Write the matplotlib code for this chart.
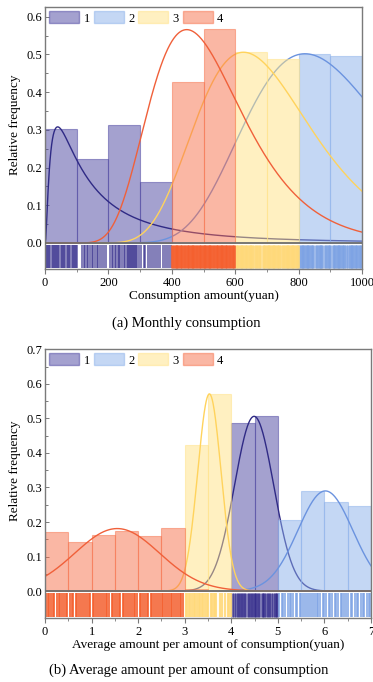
import numpy as np
import matplotlib.pyplot as plt
from matplotlib.patches import Patch

plt.rcParams['font.family'] = ['Liberation Serif', 'DejaVu Serif']

# ---- data: (a) monthly consumption ----
top_bin_left = [0, 100, 200, 300, 400, 500, 600, 700, 800, 900]
top_bin_cluster = [1, 1, 1, 1, 4, 4, 3, 3, 2, 2]
top_freq = [0.302, 0.223, 0.312, 0.161, 0.428, 0.567, 0.506, 0.488, 0.500, 0.496]
top_small_left = [0]
top_small_cluster = [4]
top_small_freq = [0.003]

# fitted (lognormal) curves: mode, peak height, log-sigma for clusters 1..4
top_mode = [40, 820, 626, 447]
top_peak = [0.308, 0.502, 0.506, 0.566]
top_sigma = [1.12, 0.276, 0.29, 0.33]

top_rug = {
    1: [4, 7, 10, 14, 17, 21, 24, 27, 31, 34, 38, 41, 45, 50, 53, 57, 60, 64, 69, 72, 76, 80,
        84, 88, 91, 95, 99, 102, 118, 122, 126, 131, 136, 141, 147, 152, 157, 163, 168, 174,
        179, 185, 191, 206, 211, 215, 220, 224, 229, 234, 238, 243, 248, 253, 258, 262, 265,
        268, 271, 274, 277, 280, 283, 286, 290, 296, 304, 311, 317, 324, 331, 338, 344, 351,
        358, 364, 371, 377, 384, 390, 396],
    2: [802, 806, 810, 814, 818, 822, 826, 830, 834, 838, 842, 846, 855, 859, 863, 867, 871,
        875, 884, 888, 892, 896, 900, 908, 912, 916, 920, 924, 928, 932, 936, 940, 944, 948,
        957, 961, 965, 969, 973, 977, 981, 985, 989, 993, 997],
    3: [602, 606, 610, 614, 618, 622, 626, 630, 634, 638, 642, 646, 650, 654, 658, 666, 670,
        674, 678, 687, 691, 695, 699, 703, 707, 711, 715, 719, 723, 727, 731, 735, 739, 743,
        751, 755, 759, 763, 767, 771, 775, 779, 783, 787, 791, 795, 798],
    4: [402, 405, 409, 413, 417, 421, 425, 429, 433, 437, 443, 447, 451, 455, 459, 463, 467,
        471, 477, 481, 485, 489, 493, 497, 501, 505, 509, 513, 517, 521, 525, 529, 533, 539,
        543, 547, 551, 555, 559, 563, 567, 571, 575, 579, 583, 589, 593, 597],
}

# ---- data: (b) average amount per consumption ----
bot_bin_left = [0, 0.5, 1.0, 1.5, 2.0, 2.5, 3.0, 3.5, 4.0, 4.5, 5.0, 5.5, 6.0, 6.5]
bot_bin_cluster = [4, 4, 4, 4, 4, 4, 3, 3, 1, 1, 2, 2, 2, 2]
bot_freq = [0.172, 0.142, 0.163, 0.175, 0.160, 0.182, 0.422, 0.571, 0.486, 0.506,
            0.206, 0.291, 0.257, 0.247]
bot_small_left = [1.0, 2.0, 3.0, 4.0]
bot_small_cluster = [1, 1, 4, 4]
bot_small_freq = [0.004, 0.003, 0.006, 0.004]

# fitted (normal) curves: mean, peak height, sigma for clusters 1..4
bot_mean = [4.49, 6.02, 3.53, 1.55]
bot_peak = [0.506, 0.290, 0.571, 0.181]
bot_sigma = [0.42, 0.59, 0.25, 0.91]

bot_rug = {
    1: [4.02, 4.05, 4.11, 4.14, 4.17, 4.20, 4.23, 4.27, 4.30, 4.36, 4.39, 4.42, 4.45, 4.48,
        4.51, 4.54, 4.57, 4.60, 4.65, 4.68, 4.71, 4.74, 4.79, 4.82, 4.85, 4.90, 4.93, 4.96, 4.99],
    2: [5.03, 5.08, 5.12, 5.15, 5.21, 5.26, 5.29, 5.33, 5.38, 5.41, 5.47, 5.50, 5.54, 5.59,
        5.62, 5.66, 5.72, 5.75, 5.79, 5.84, 5.87, 5.91, 5.96, 6.00, 6.04, 6.09, 6.13, 6.17,
        6.22, 6.25, 6.30, 6.35, 6.38, 6.43, 6.47, 6.51, 6.56, 6.60, 6.65, 6.70, 6.73, 6.78,
        6.83, 6.86, 6.91, 6.95, 6.98],
    3: [3.02, 3.05, 3.09, 3.12, 3.15, 3.19, 3.22, 3.27, 3.30, 3.33, 3.37, 3.40, 3.44, 3.47,
        3.50, 3.56, 3.59, 3.62, 3.65, 3.68, 3.75, 3.79, 3.86, 3.93, 3.96, 3.99],
    4: [0.02, 0.06, 0.09, 0.13, 0.17, 0.20, 0.26, 0.29, 0.33, 0.36, 0.41, 0.45, 0.48, 0.54,
        0.57, 0.61, 0.66, 0.69, 0.73, 0.78, 0.82, 0.85, 0.90, 0.94, 0.97, 1.03, 1.06, 1.10,
        1.14, 1.19, 1.22, 1.26, 1.31, 1.34, 1.38, 1.43, 1.46, 1.50, 1.55, 1.58, 1.62, 1.67,
        1.70, 1.74, 1.79, 1.82, 1.86, 1.91, 1.94, 1.98, 2.03, 2.06, 2.10, 2.15, 2.18, 2.22,
        2.27, 2.30, 2.34, 2.39, 2.42, 2.46, 2.51, 2.54, 2.58, 2.62, 2.66, 2.70, 2.73, 2.77,
        2.81, 2.85, 2.89, 2.93, 2.97],
}

labels = ['1', '2', '3', '4']
bar_colors = {1: '#4b44a0', 2: '#8bb0ea', 3: '#ffe385', 4: '#f7704a'}
line_colors = {1: '#2f2a85', 2: '#6b93df', 3: '#ffd35c', 4: '#f0603a'}
rug_colors = {1: '#2f2888', 2: '#7ea3e4', 3: '#ffd97a', 4: '#f4602f'}
rug_alpha = {1: 0.7, 2: 0.85, 3: 0.9, 4: 0.9}
spine_col = '#7a7a7a'


def lognorm_curve(x, mode, peak, s):
    return peak * np.exp(-np.log(x / mode) ** 2 / (2 * s ** 2))


def norm_curve(x, mean, peak, s):
    return peak * np.exp(-(x - mean) ** 2 / (2 * s ** 2))


def draw_panel(ax, lefts, clusters, freqs, width, small, curve, xs, rug, rug_y, lw_rug):
    for c in [1, 2, 3, 4]:
        # histogram bars of this cluster
        for l, k, f in zip(lefts, clusters, freqs):
            if k == c:
                ax.bar(l, f, width=width, align='edge', color=bar_colors[c],
                       edgecolor=bar_colors[c], linewidth=0.8, alpha=0.5, zorder=2)
        for l, k, f in zip(*small):
            if k == c:
                ax.bar(l, f, width=width, align='edge', color=bar_colors[c],
                       edgecolor=bar_colors[c], linewidth=0.5, alpha=0.5, zorder=2)
        ax.plot(xs, curve(xs, c - 1), color=line_colors[c], lw=1.0, zorder=2)
        # rug of the raw observations below zero
        ax.vlines(rug[c], rug_y[0], rug_y[1], color=rug_colors[c], lw=lw_rug[c],
                  alpha=rug_alpha[c], zorder=1)
    ax.axhline(0, color='#6e6e6e', lw=1.3, zorder=3)

    for sp in ax.spines.values():
        sp.set_color(spine_col)
        sp.set_linewidth(1.0)
    ax.tick_params(axis='x', direction='out', length=3.5, width=0.8, color=spine_col,
                   labelsize=9, pad=2)
    ax.tick_params(axis='x', which='minor', direction='out', length=2, width=0.6, color=spine_col)
    ax.tick_params(axis='y', which='both', direction='in', length=3, width=0.7, color=spine_col,
                   labelsize=9, pad=2)
    ax.tick_params(axis='y', which='minor', length=1.8)

    handles = [Patch(facecolor=bar_colors[c], edgecolor=bar_colors[c], alpha=0.5) for c in [1, 2, 3, 4]]
    ax.legend(handles, labels, loc='upper left', ncol=4, frameon=False, fontsize=9,
              handlelength=2.4, handleheight=1.1, handletextpad=0.35, columnspacing=0.3,
              borderaxespad=0.15, borderpad=0.2)


fig = plt.figure(figsize=(3.73, 6.82), dpi=100)

# (a) monthly consumption
ax1 = fig.add_axes([45 / 373, 1 - 269 / 682, 317 / 373, 262 / 682])
xs1 = np.linspace(1, 1000, 800)
draw_panel(ax1, top_bin_left, top_bin_cluster, top_freq, 100,
           (top_small_left, top_small_cluster, top_small_freq),
           lambda x, i: lognorm_curve(x, top_mode[i], top_peak[i], top_sigma[i]),
           xs1, top_rug, (-0.066, -0.006), {1: 1.2, 2: 2.0, 3: 2.0, 4: 2.0})
ax1.set_xlim(0, 1000)
ax1.set_ylim(-0.069, 0.626)
ax1.set_xticks(np.arange(0, 1001, 200))
ax1.set_xticks(np.arange(100, 1000, 200), minor=True)
ax1.set_yticks([0, 0.1, 0.2, 0.3, 0.4, 0.5, 0.6])
ax1.set_yticks(np.arange(0.05, 0.62, 0.1), minor=True)
ax1.set_yticklabels(['0.0', '0.1', '0.2', '0.3', '0.4', '0.5', '0.6'])
ax1.set_xlabel('Consumption amount(yuan)', fontsize=9.5, labelpad=1)
ax1.set_ylabel('Relative frequency', fontsize=9.5)
ax1.yaxis.set_label_coords(-0.076, 0.55)

# (b) average amount per consumption
ax2 = fig.add_axes([45 / 373, 1 - 618 / 682, 326 / 373, 269 / 682])
xs2 = np.linspace(0, 7, 800)
draw_panel(ax2, bot_bin_left, bot_bin_cluster, bot_freq, 0.5,
           (bot_small_left, bot_small_cluster, bot_small_freq),
           lambda x, i: norm_curve(x, bot_mean[i], bot_peak[i], bot_sigma[i]),
           xs2, bot_rug, (-0.074, -0.006), {1: 2.0, 2: 1.3, 3: 1.6, 4: 1.35})
ax2.set_xlim(0, 7)
ax2.set_ylim(-0.078, 0.701)
ax2.set_xticks(np.arange(0, 8, 1))
ax2.set_xticks(np.arange(0.5, 7, 1), minor=True)
ax2.set_yticks([0, 0.1, 0.2, 0.3, 0.4, 0.5, 0.6, 0.7])
ax2.set_yticks(np.arange(0.05, 0.7, 0.1), minor=True)
ax2.set_yticklabels(['0.0', '0.1', '0.2', '0.3', '0.4', '0.5', '0.6', '0.7'])
ax2.set_xlabel('Average amount per amount of consumption(yuan)', fontsize=9.5, labelpad=1)
ax2.set_ylabel('Relative frequency', fontsize=9.5)
ax2.yaxis.set_label_coords(-0.074, 0.546)

fig.text(0.5, 1 - 323 / 682, '(a) Monthly consumption', ha='center', va='center', fontsize=10.5)
fig.text(0.505, 1 - 670 / 682, '(b) Average amount per amount of consumption',
         ha='center', va='center', fontsize=10.5)

fig.savefig('out.png', dpi=100)
